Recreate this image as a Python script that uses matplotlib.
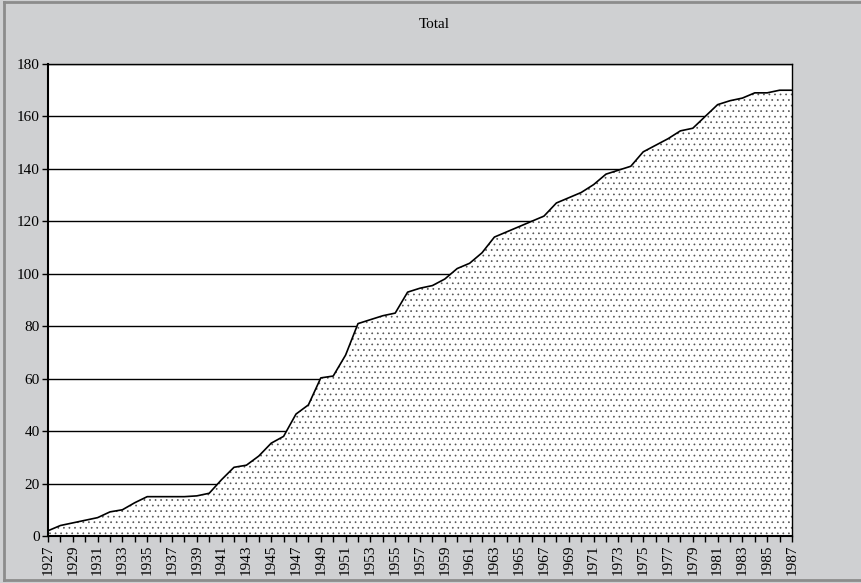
import matplotlib
matplotlib.use("Agg")
import matplotlib.pyplot as plt
from matplotlib.lines import Line2D

years = list(range(1927, 1988))
total = [2, 4, 5, 6, 7, 9.2, 10, 12.7, 15, 15, 15, 15, 15.3, 16.3,
         21.5, 26.2, 27, 30.5, 35.4, 38, 46.5, 50, 60.3, 61, 69,
         81, 82.5, 84, 85, 93, 94.5, 95.5, 98, 102, 104, 108, 114,
         116, 118, 120, 122, 127, 129, 131, 134, 138, 139.5, 141,
         146.5, 149, 151.5, 154.5, 155.5, 160, 164.5, 166, 167, 169,
         169, 170, 170]
xtick_labels = [str(y) for y in range(1927, 1988, 2)]
yticks = list(range(0, 181, 20))
title = "Total"

plt.rcParams['font.family'] = ['Liberation Serif', 'DejaVu Serif']
plt.rcParams['hatch.linewidth'] = 0.5
bg = '#cfd0d2'
fig = plt.figure(figsize=(8.62, 5.83), dpi=100, facecolor=bg)
W, H = 862, 583

# outer frame
fig.add_artist(Line2D([4/W, 4/W], [1 - 2/H, 3/H], transform=fig.transFigure, color='#8c8c8c', lw=2))
fig.add_artist(Line2D([4/W, 1], [1 - 2/H, 1 - 2/H], transform=fig.transFigure, color='#8c8c8c', lw=2))
fig.add_artist(Line2D([4/W, 1], [3/H, 3/H], transform=fig.transFigure, color='#8c8c8c', lw=2))

ax = fig.add_axes([48/W, (H-536)/H, (792-48)/W, (536-64)/H])
ax.set_facecolor('white')
for y in yticks[1:]:
    ax.axhline(y, color='black', lw=1, zorder=1)
ax.fill_between(years, total, 0, facecolor='white', edgecolor='#555555', hatch='...', linewidth=0, zorder=2)
ax.plot(years, total, color='black', lw=1.2, zorder=3)

ax.set_xlim(1927, 1987)
ax.set_ylim(0, 180)
ax.set_yticks(yticks)
ax.set_yticklabels([str(v) for v in yticks], fontsize=11)
ax.set_xticks(years, minor=True)
ax.set_xticks(list(range(1927, 1988, 2)))
ax.set_xticklabels(xtick_labels, rotation=90, fontsize=11)
ax.tick_params(axis='x', which='both', direction='out', length=4, width=1, pad=2)
ax.tick_params(axis='y', direction='out', length=4, width=1, pad=2)
for s in ax.spines.values():
    s.set_color('black')
    s.set_linewidth(1)
    s.set_zorder(4)
ax.spines['left'].set_linewidth(1.5)
ax.spines['bottom'].set_linewidth(1.5)

fig.text(434/W, 1 - 25/H, title, ha='center', va='center', fontsize=11)

fig.savefig("out.png", dpi=100, facecolor=bg)
